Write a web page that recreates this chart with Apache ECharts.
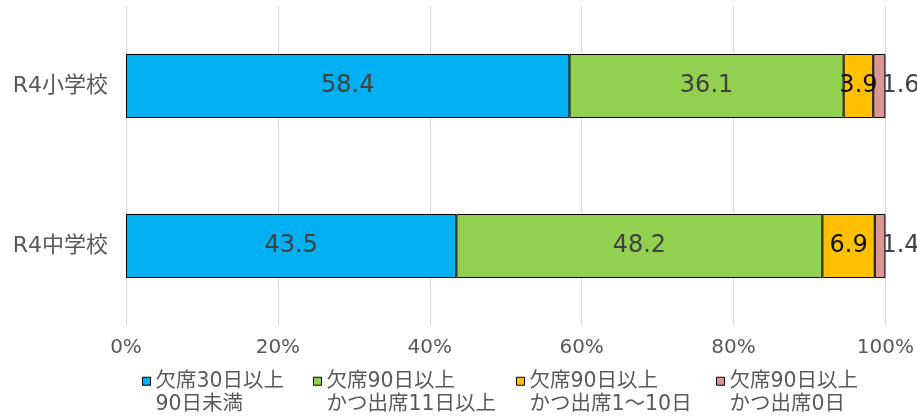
<!DOCTYPE html>
<html>
<head>
<meta charset="utf-8">
<script src="https://cdn.jsdelivr.net/npm/echarts@6/dist/echarts.min.js"></script>
<style>
  html, body { margin: 0; padding: 0; background: #fff; }
  #chart { width: 917px; height: 417px; }
</style>
</head>
<body>
<div id="chart"></div>
<script>
const categories = ['R4中学校', 'R4小学校']
const seriesNames = ['欠席30日以上\n90日未満', '欠席90日以上\nかつ出席11日以上', '欠席90日以上\nかつ出席1～10日', '欠席90日以上\nかつ出席0日']
const under90 = [43.5, 58.4]
const attend11 = [48.2, 36.1]
const attend1to10 = [6.9, 3.9]
const attend0 = [1.4, 1.6]
const colors = ['#00B0F0', '#92D050', '#FFC000', '#DA9694']
const labelColors = ['#404040', '#404040', '#0d0d0d', '#404040']
const legendLefts = [137, 308, 511, 711]

const font = '"DejaVu Sans", "Noto Sans CJK JP", sans-serif'
const values = [under90, attend11, attend1to10, attend0]

const series = values.map((data, i) => ({
    name: seriesNames[i],
    type: 'bar',
    stack: 'total',
    barWidth: 64,
    data: data,
    itemStyle: { color: colors[i], borderColor: '#000', borderWidth: 1 },
    label: {
        show: true,
        position: i === 3 ? 'right' : 'inside',
        distance: -4,
        color: labelColors[i],
        fontFamily: font,
        fontSize: 24,
    },
}))

const legendRich = {
    a: { fontFamily: font, fontSize: 20.5, color: '#595959', lineHeight: 23 },
    b: { fontFamily: font, fontSize: 20.5, color: '#595959', lineHeight: 23 },
}

// one legend per item so each sits where the original puts it
const legends = seriesNames.map((name, i) => ({
    left: legendLefts[i],
    top: 366,
    itemWidth: 8,
    itemHeight: 8,
    itemGap: 0,
    icon: 'rect',
    itemStyle: { borderColor: '#000', borderWidth: 1 },
    formatter: function (n) {
        const parts = n.split('\n')
        return '{a|' + parts[0] + '}\n{b|' + parts[1] + '}'
    },
    textStyle: {
        color: '#595959',
        fontFamily: font,
        fontSize: 20.5,
        padding: [23, 0, 0, 0],
        rich: legendRich,
    },
    data: [name],
}))

const chart = echarts.init(document.getElementById('chart'))
chart.setOption({
    animation: false,
    grid: { left: 126, right: 31, top: 6, bottom: 91 },
    xAxis: {
        type: 'value',
        min: 0,
        max: 100,
        interval: 20,
        axisLine: { show: false },
        axisTick: { show: false },
        splitLine: { lineStyle: { color: '#D9D9D9', width: 1 } },
        axisLabel: { formatter: '{value}%', color: '#595959', fontFamily: font, fontSize: 20, margin: 12 },
    },
    yAxis: {
        type: 'category',
        data: categories,
        axisLine: { show: false },
        axisTick: { show: false },
        axisLabel: { color: '#595959', fontFamily: font, fontSize: 22, margin: 18 },
    },
    legend: legends,
    series: series,
})
</script>
</body>
</html>
